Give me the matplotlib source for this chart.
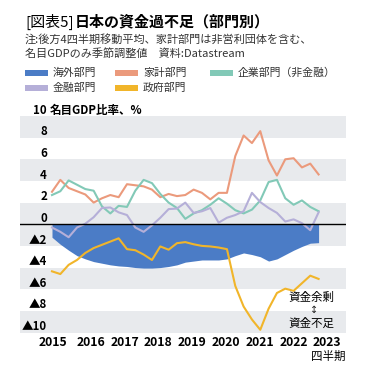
import matplotlib
matplotlib.use('Agg')
import matplotlib.pyplot as plt
from matplotlib.patches import Rectangle
import numpy as np

plt.rcParams['font.family'] = ['Noto Sans CJK JP', 'DejaVu Sans']

W, H = 366, 376

# quarterly, 2015Q1 - 2023Q1 (4-quarter moving average, % of nominal GDP)
quarters = np.arange(33)
overseas = [-1.2, -1.85, -2.4, -2.9, -3.2, -3.45, -3.6, -3.75, -3.85, -3.9, -4.0,
            -4.05, -4.05, -4.0, -3.9, -3.75, -3.5, -3.4, -3.3, -3.3, -3.3, -3.2,
            -2.9, -2.65, -2.8, -3.0, -3.4, -3.2, -2.8, -2.4, -2.05, -1.75, -1.7]
household = [3.0, 4.1, 3.35, 3.05, 2.75, 2.0, 2.4, 2.7, 2.5, 3.7, 3.6,
             3.5, 3.2, 2.5, 2.8, 2.6, 2.7, 3.2, 2.9, 2.3, 2.9, 2.9,
             6.3, 8.2, 7.5, 8.6, 5.9, 4.5, 6.0, 6.1, 5.25, 5.6, 4.6]
corporate = [2.7, 3.05, 4.05, 3.65, 3.25, 3.1, 1.65, 1.0, 1.7, 1.6, 3.1,
             4.1, 3.8, 2.8, 2.0, 1.5, 0.5, 1.0, 1.3, 1.8, 2.4, 1.9,
             1.3, 1.0, 1.35, 2.2, 3.9, 4.1, 2.4, 1.8, 2.2, 1.6, 1.2]
financial = [-0.3, -0.7, -1.2, -0.3, 0.05, 0.65, 1.5, 1.55, 1.1, 0.85, -0.3,
             -0.7, -0.1, 0.6, 1.4, 1.45, 2.0, 1.05, 1.2, 1.5, 0.15, 0.6,
             0.85, 1.2, 2.9, 2.05, 1.5, 1.05, 0.25, 0.45, 0.1, -0.55, 1.1]
government = [-4.35, -4.6, -3.75, -3.3, -2.65, -2.2, -1.9, -1.6, -1.3, -2.3, -2.4,
              -2.8, -3.3, -2.05, -2.35, -1.75, -1.65, -1.85, -2.0, -2.05, -2.15, -2.3,
              -5.7, -7.6, -8.8, -9.75, -7.8, -6.35, -5.95, -6.15, -5.45, -4.75, -5.05]

year_labels = ['2015', '2016', '2017', '2018', '2019', '2020', '2021', '2022', '2023']
year_pos = [0.06, 4.62, 8.73, 12.72, 16.75, 20.89, 24.97, 28.99, 32.95]
ytick_vals = [8, 6, 4, 2, 0, -2, -4, -6, -8, -10]
ytick_labels = ['8', '6', '4', '2', '0', '▲2', '▲4', '▲6', '▲8', '▲10']

c_blue = '#4b7cc6'
c_orange = '#eb9a7c'
c_teal = '#82c9b7'
c_purple = '#b5afd8'
c_yellow = '#f1b52a'
c_band = '#e8eaed'

fig = plt.figure(figsize=(W / 100, H / 100), dpi=100)
ax = fig.add_axes([20 / W, (H - 332.5) / H, 326 / W, 216.5 / H])
ax.set_xlim(-3.84, 35.29)
ax.set_ylim(-10, 10)
ax.axis('off')

for lo, hi in [(8, 10), (4, 6), (-2, 2), (-6, -4), (-10, -8)]:
    ax.axhspan(lo, hi, color=c_band, lw=0, zorder=0)

ax.fill_between(quarters, 0, overseas, color=c_blue, lw=0, zorder=1)
lw = 1.5
ax.plot(quarters, household, color=c_orange, lw=lw, zorder=2)
ax.plot(quarters, corporate, color=c_teal, lw=lw, zorder=2)
ax.plot(quarters, financial, color=c_purple, lw=lw, zorder=2)
ax.plot(quarters, government, color=c_yellow, lw=lw, zorder=2)
ax.axhline(0, color='black', lw=1, zorder=4)

# y labels sit on top of their gridline
for v, l in zip(ytick_vals, ytick_labels):
    ax.text(-0.6, v + 0.22, l, ha='right', va='baseline', fontsize=8.3,
            fontweight='bold')
ax.text(-0.6, 10 + 0.22, '10', ha='right', va='baseline', fontsize=8.3,
        fontweight='bold')
ax.text(-0.25, 10 + 0.22, '名目GDP比率、%', ha='left', va='baseline',
        fontsize=8.3, fontweight='bold')

for p, l in zip(year_pos, year_labels):
    ax.text(p, -10.92, l, ha='center', va='center', fontsize=8.8,
            fontweight='bold')
fig.text(345 / W, 1 - 356.7 / H, '四半期', ha='right', va='center', fontsize=8.3)

ax.text(31.2, -6.74, '資金余剰', ha='center', va='center', fontsize=8.3)
ax.text(31.2, -9.14, '資金不足', ha='center', va='center', fontsize=8.3)
ax.text(31.5, -7.9, '↕', ha='center', va='center', fontsize=7,
        family=['DejaVu Sans'], color='#222222')

# title and notes
fig.text(25 / W, 1 - 21.7 / H, '[図表5]', ha='left', va='center', fontsize=10.8)
fig.text(75 / W, 1 - 21.7 / H, '日本の資金過不足（部門別）', ha='left',
         va='center', fontsize=10.8, fontweight='bold')
fig.text(25 / W, 1 - 39.3 / H, '注:後方4四半期移動平均、家計部門は非営利団体を含む、',
         ha='left', va='center', fontsize=8, color='#333333')
fig.text(25 / W, 1 - 53.3 / H, '名目GDPのみ季節調整値　資料:Datastream',
         ha='left', va='center', fontsize=8, color='#333333')

# legend
legend_items = [('海外部門', c_blue, 25, 72.7), ('家計部門', c_orange, 115, 72.7),
                ('企業部門（非金融）', c_teal, 210, 72.7),
                ('金融部門', c_purple, 25, 87.7), ('政府部門', c_yellow, 115, 87.7)]
for name, col, x0, y0 in legend_items:
    fig.add_artist(Rectangle((x0 / W, 1 - (y0 + 3) / H), 23 / W, 6 / H,
                             color=col, lw=0, transform=fig.transFigure))
    fig.text((x0 + 28) / W, 1 - y0 / H, name, ha='left', va='center',
             fontsize=7.8, color='#333333')

fig.savefig('out.png', dpi=100)
